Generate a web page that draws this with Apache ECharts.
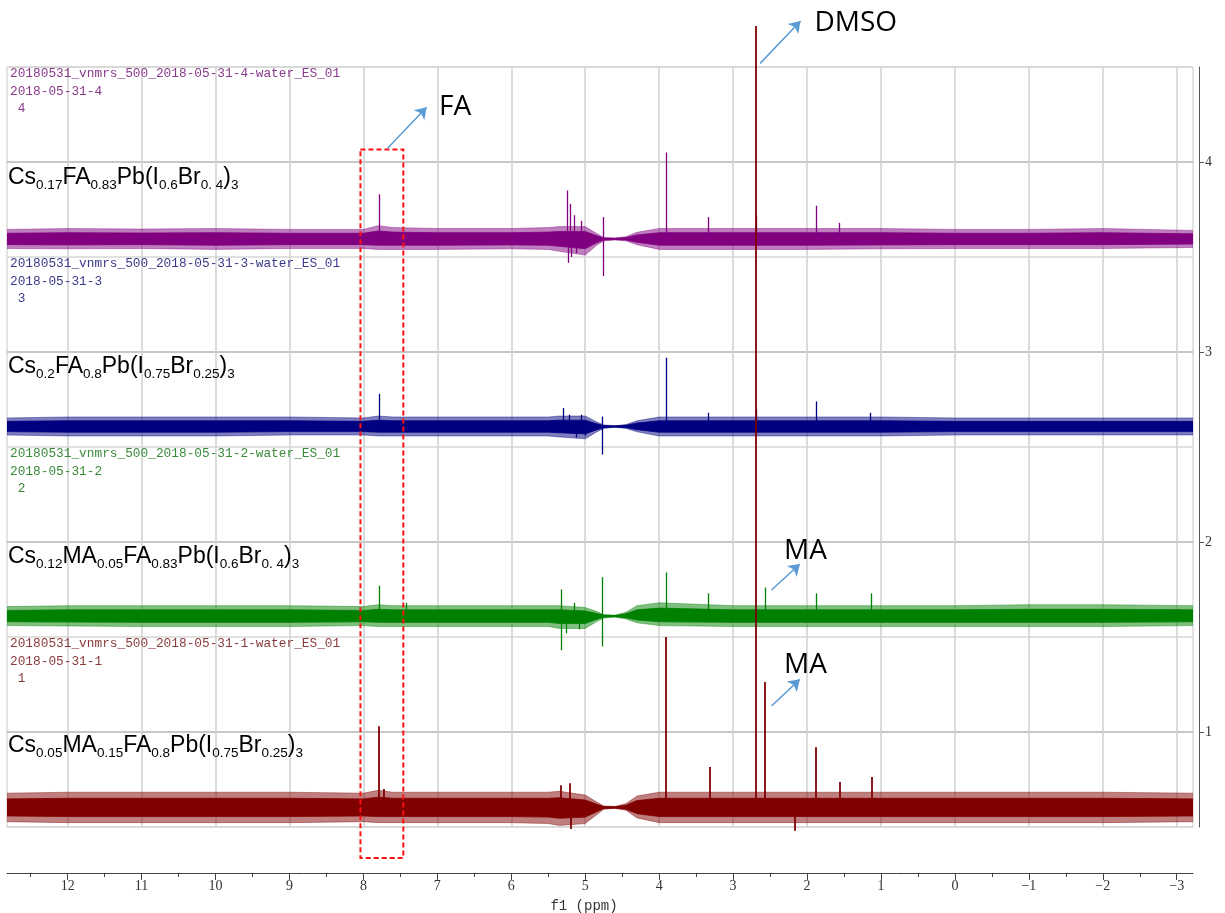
<!DOCTYPE html>
<html>
<head>
<meta charset="utf-8">
<script src="https://cdn.jsdelivr.net/npm/echarts@6/dist/echarts.min.js"></script>
<style>
  html, body { margin: 0; padding: 0; background: #fff; }
  #main { width: 1225px; height: 913px; }
</style>
</head>
<body>
<div id="main"></div>
<script>
// axis ticks (ppm on x, stacked intensity on y)
var xTicks = [12, 11, 10, 9, 8, 7, 6, 5, 4, 3, 2, 1, 0, -1, -2, -3];
var xMinorTicks = [12.5, 11.5, 10.5, 9.5, 8.5, 7.5, 6.5, 5.5, 4.5, 3.5, 2.5, 1.5, 0.5, -0.5, -1.5, -2.5];
var yTicks = [1, 2, 3, 4];

// spectra, top to bottom: 4, 3, 2, 1
var sampleIds = ['4', '3', '2', '1'];
var baselines = [3.595, 2.608, 1.61, 0.603];

// noise envelope (offset above / below baseline)
var envPpm = [12.82, 12.0, 11.0, 10.0, 9.0, 8.0, 7.8, 7.6, 7.0, 6.0, 5.5, 5.35, 5.0, 4.85, 4.75, 4.6, 4.45, 4.3, 4.0, 3.0, 2.0, 1.0, 0.0, -1.0, -2.0, -3.22];
var noiseHi4 = [0.05, 0.055, 0.052, 0.055, 0.05, 0.05, 0.07, 0.06, 0.055, 0.055, 0.06, 0.065, 0.065, 0.03, 0.008, 0.005, 0.012, 0.035, 0.055, 0.055, 0.055, 0.055, 0.05, 0.05, 0.055, 0.045];
var noiseLo4 = [0.05, 0.052, 0.05, 0.055, 0.05, 0.05, 0.055, 0.055, 0.055, 0.052, 0.055, 0.065, 0.085, 0.035, 0.01, 0.005, 0.01, 0.03, 0.055, 0.055, 0.055, 0.052, 0.05, 0.05, 0.05, 0.045];
var noiseHi3 = [0.045, 0.05, 0.05, 0.05, 0.05, 0.045, 0.055, 0.05, 0.05, 0.05, 0.05, 0.055, 0.055, 0.025, 0.008, 0.004, 0.01, 0.03, 0.05, 0.05, 0.05, 0.05, 0.045, 0.045, 0.045, 0.045];
var noiseLo3 = [0.045, 0.05, 0.05, 0.05, 0.045, 0.045, 0.05, 0.05, 0.05, 0.05, 0.05, 0.055, 0.065, 0.03, 0.01, 0.004, 0.01, 0.028, 0.05, 0.05, 0.05, 0.05, 0.045, 0.045, 0.045, 0.045];
var noiseHi2 = [0.05, 0.055, 0.055, 0.055, 0.055, 0.05, 0.06, 0.055, 0.055, 0.055, 0.055, 0.055, 0.045, 0.025, 0.008, 0.005, 0.02, 0.055, 0.07, 0.055, 0.055, 0.055, 0.055, 0.06, 0.06, 0.055];
var noiseLo2 = [0.05, 0.052, 0.055, 0.055, 0.055, 0.05, 0.055, 0.055, 0.055, 0.055, 0.055, 0.065, 0.065, 0.03, 0.01, 0.005, 0.015, 0.035, 0.05, 0.055, 0.055, 0.055, 0.055, 0.055, 0.055, 0.05];
var noiseHi1 = [0.075, 0.08, 0.08, 0.08, 0.08, 0.075, 0.09, 0.08, 0.08, 0.08, 0.08, 0.085, 0.065, 0.03, 0.008, 0.005, 0.02, 0.06, 0.08, 0.08, 0.08, 0.08, 0.08, 0.08, 0.08, 0.075];
var noiseLo1 = [0.075, 0.08, 0.08, 0.08, 0.08, 0.075, 0.08, 0.08, 0.08, 0.08, 0.085, 0.095, 0.085, 0.04, 0.01, 0.005, 0.015, 0.055, 0.08, 0.08, 0.08, 0.08, 0.08, 0.08, 0.08, 0.075];

// peaks: [ppm, tip value] (tip below baseline = negative spike)
var peaks4 = [[7.79, 3.83], [5.24, 3.85], [5.235, 3.47], [5.20, 3.78], [5.185, 3.50], [5.15, 3.72], [5.12, 3.52], [5.06, 3.69], [5.02, 3.55], [4.76, 3.71], [4.76, 3.40], [3.91, 4.05], [3.33, 3.71], [2.69, 3.72], [1.88, 3.77], [1.57, 3.68]];
var peaks3 = [[7.79, 2.78], [5.30, 2.705], [5.22, 2.67], [5.12, 2.55], [5.05, 2.67], [5.0, 2.56], [4.77, 2.66], [4.77, 2.46], [3.91, 2.97], [3.33, 2.68], [2.69, 2.70], [1.88, 2.74], [1.15, 2.68]];
var peaks2 = [[7.79, 1.77], [7.42, 1.68], [5.33, 1.75], [5.32, 1.43], [5.25, 1.52], [5.15, 1.68], [5.08, 1.54], [4.77, 1.815], [4.77, 1.45], [3.91, 1.84], [3.33, 1.73], [2.57, 1.76], [1.88, 1.73], [1.13, 1.73]];
var peaks1 = [[7.79, 1.03], [7.72, 0.70], [5.33, 0.72], [5.21, 0.73], [5.2, 0.49], [3.91, 1.50], [3.32, 0.816], [2.69, 4.716], [2.567, 1.263], [2.17, 0.48], [1.88, 0.92], [1.56, 0.737], [1.13, 0.763]];

// annotations in data coordinates
var annoText = [['FA', 6.76, 4.29], ['DMSO', 1.34, 4.73], ['MA', 2.02, 1.953], ['MA', 2.02, 1.353]];
var annoArrows = [[7.673, 4.072, 7.145, 4.288], [2.634, 4.519, 2.088, 4.742], [2.48, 1.747, 2.097, 1.884], [2.48, 1.137, 2.097, 1.277]];
var faBox = [8.04, 7.46, 4.066, 0.337];

var formulas = [
  '{n|Cs}{s|0.17}{n|FA}{s|0.83}{n|Pb(I}{s|0.6}{n|Br}{s|0. 4}{n|)}{s|3}',
  '{n|Cs}{s|0.2}{n|FA}{s|0.8}{n|Pb(I}{s|0.75}{n|Br}{s|0.25}{n|)}{s|3}',
  '{n|Cs}{s|0.12}{n|MA}{s|0.05}{n|FA}{s|0.83}{n|Pb(I}{s|0.6}{n|Br}{s|0. 4}{n|)}{s|3}',
  '{n|Cs}{s|0.05}{n|MA}{s|0.15}{n|FA}{s|0.8}{n|Pb(I}{s|0.75}{n|Br}{s|0.25}{n|)}{s|3}'
];

var colors = ['#800080', '#000080', '#008000', '#800000'];
var textColors = ['#8a3a8a', '#3a3a8a', '#3a8a3a', '#8a3a3a'];
var noiseHi = [noiseHi4, noiseHi3, noiseHi2, noiseHi1];
var noiseLo = [noiseLo4, noiseLo3, noiseLo2, noiseLo1];
var peaks = [peaks4, peaks3, peaks2, peaks1];
var coreShare = 0.6; // dense middle of the noise band vs. the spiky fringe

var chart = echarts.init(document.getElementById('main'));

function band(data, color, origin, opacity, z) {
  return {
    type: 'line', silent: true, symbol: 'none', z: z,
    data: data,
    lineStyle: { color: color, width: 0.8, opacity: opacity },
    areaStyle: { color: color, opacity: opacity, origin: origin }
  };
}

var series = [];
var graphic = [];
for (var i = 0; i < 4; i++) {
  var base = baselines[i];
  var hi = noiseHi[i], lo = noiseLo[i];
  // spiky fringe
  series.push(band(envPpm.map(function (x, k) { return [x, base + hi[k]]; }), colors[i], base - 0.004, 0.5, 2));
  series.push(band(envPpm.map(function (x, k) { return [x, base - lo[k]]; }), colors[i], base + 0.004, 0.5, 2));
  // dense core
  series.push(band(envPpm.map(function (x, k) { return [x, base + hi[k] * coreShare]; }), colors[i], base - 0.004, 1, 2.5));
  series.push(band(envPpm.map(function (x, k) { return [x, base - lo[k] * coreShare]; }), colors[i], base + 0.004, 1, 2.5));
  series.push({
    type: 'lines', coordinateSystem: 'cartesian2d', silent: true, clip: false,
    z: i === 3 ? 6 : 3,
    data: peaks[i].map(function (p) { return { coords: [[p[0], base], [p[0], p[1]]] }; }),
    lineStyle: { color: colors[i], width: i === 3 ? 1.8 : 1.3, opacity: 1 }
  });

  graphic.push({
    type: 'text', left: 10, top: [65, 255, 445, 635][i], silent: true, z: 100,
    style: {
      text: '20180531_vnmrs_500_2018-05-31-' + sampleIds[i] + '-water_ES_01\n2018-05-31-' + sampleIds[i] + '\n ' + sampleIds[i],
      fontFamily: 'Liberation Mono', fontSize: 12.8, lineHeight: 17.5, fill: textColors[i]
    }
  });
  graphic.push({
    type: 'text', left: 8, top: [166, 355, 545, 734][i], silent: true, z: 100,
    style: {
      text: formulas[i],
      rich: {
        n: { fontFamily: 'Liberation Sans', fontSize: 23, lineHeight: 30, fill: '#000' },
        s: { fontFamily: 'Liberation Sans', fontSize: 13.5, lineHeight: 15, verticalAlign: 'bottom', fill: '#000' }
      }
    }
  });
}

// dashed box around the FA peak
series.push({
  type: 'lines', coordinateSystem: 'cartesian2d', polyline: true, silent: true, clip: false, z: 10,
  data: [{ coords: [[faBox[0], faBox[2]], [faBox[1], faBox[2]], [faBox[1], faBox[3]], [faBox[0], faBox[3]], [faBox[0], faBox[2]]] }],
  lineStyle: { color: '#ff1010', width: 2, type: [5, 3], opacity: 1 }
});
// arrows
series.push({
  type: 'lines', coordinateSystem: 'cartesian2d', silent: true, clip: false, z: 10,
  symbol: ['none', 'arrow'], symbolSize: 11,
  data: annoArrows.map(function (a) { return { coords: [[a[0], a[1]], [a[2], a[3]]] }; }),
  lineStyle: { color: '#5b9bd5', width: 1.5, opacity: 1 }
});
// annotation labels
series.push({
  type: 'scatter', silent: true, clip: false, z: 10, symbolSize: 0.1,
  itemStyle: { color: 'transparent' },
  data: annoText.map(function (a) { return { name: a[0], value: [a[1], a[2]] }; }),
  label: { show: true, position: 'inside', formatter: '{b}', fontFamily: 'Open Sans', fontSize: 28, color: '#000', opacity: 1 }
});

function ppmLabel(v) { return v < 0 ? '\u2212' + (-v) : String(v); }

var option = {
  animation: false,
  backgroundColor: '#fff',
  grid: { left: 7, right: 32, top: 67, bottom: 86, outerBoundsMode: 'none', containLabel: false, show: true, borderColor: '#c8c8c8', borderWidth: 1 },
  xAxis: [{
    type: 'value', inverse: true, min: -3.22, max: 12.82, position: 'bottom', offset: 46,
    axisLine: { show: true, onZero: false, lineStyle: { color: '#444' } },
    axisTick: { show: true, customValues: xTicks, length: 7, lineStyle: { color: '#444' } },
    axisLabel: { customValues: xTicks, formatter: ppmLabel, fontFamily: 'Liberation Serif', fontSize: 14, color: '#333', margin: 6 },
    splitLine: { show: true, lineStyle: { color: '#d0d0d0', width: 1.5 } },
    name: 'f1 (ppm)', nameLocation: 'middle', nameGap: 26,
    nameTextStyle: { fontFamily: 'Liberation Mono', fontSize: 14, color: '#333', padding: [0, 32, 0, 0] }
  }, {
    type: 'value', inverse: true, min: -3.22, max: 12.82, position: 'bottom', offset: 46,
    axisLine: { show: false, onZero: false },
    axisTick: { show: true, customValues: xMinorTicks, length: 4, lineStyle: { color: '#444' } },
    axisLabel: { show: false },
    splitLine: { show: false }
  }],
  yAxis: [{
    type: 'value', position: 'right', offset: 6, min: 0.5, max: 4.5,
    axisLine: { show: true, onZero: false, lineStyle: { color: '#555' } },
    axisTick: { show: true, customValues: yTicks, length: 5, lineStyle: { color: '#555' } },
    axisLabel: { customValues: yTicks, fontFamily: 'Liberation Serif', fontSize: 14, color: '#333', margin: 6 },
    splitLine: { show: false }
  }, {
    type: 'value', position: 'left', min: 0.5, max: 4.5, interval: 0.5,
    axisLine: { show: false, onZero: false }, axisTick: { show: false }, axisLabel: { show: false },
    splitLine: { show: true, lineStyle: { color: ['#d6d6d6', '#b4b4b4'], width: 1.5 } }
  }],
  graphic: graphic,
  series: series
};

chart.setOption(option);
</script>
</body>
</html>
